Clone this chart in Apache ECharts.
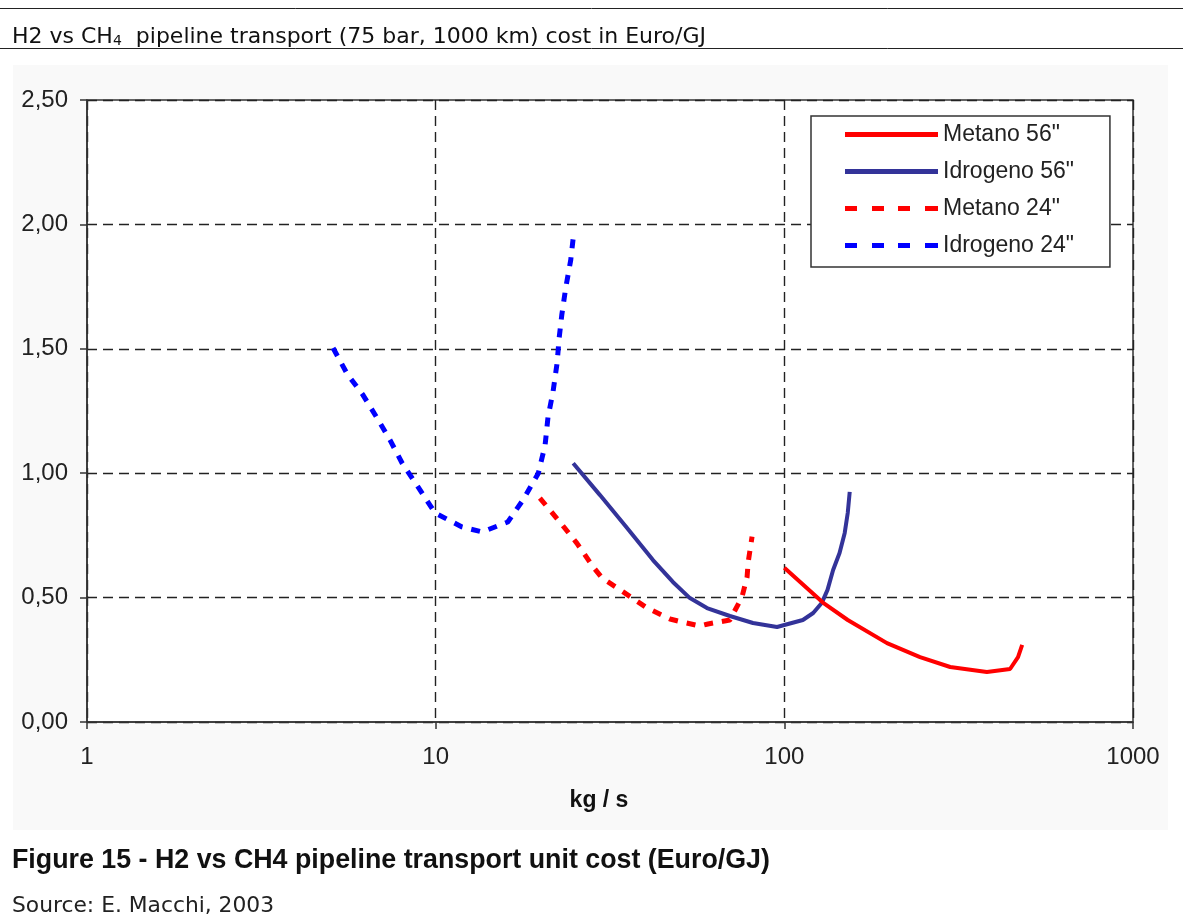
<!DOCTYPE html>
<html>
<head>
<meta charset="utf-8">
<script src="https://cdn.jsdelivr.net/npm/echarts@6/dist/echarts.min.js"></script>
<style>
  html, body { margin: 0; padding: 0; background: #ffffff; }
  #chart { width: 1183px; height: 916px; }
</style>
</head>
<body>
<div id="chart"></div>
<script>
// Flow rate (kg/s) and unit transport cost (Euro/GJ) for each pipeline case
const metano56X = [100, 129, 152, 197, 245, 299, 381, 444, 468, 481];
const metano56Y = [0.62, 0.48, 0.41, 0.317, 0.261, 0.221, 0.201, 0.213, 0.261, 0.31];

const idrogeno56X = [24.8, 29.6, 35.4, 42.0, 47.9, 53.6, 60.0, 69.8, 81.3, 95.3, 100, 113, 121, 128, 133, 138, 144, 149, 152, 154];
const idrogeno56Y = [1.04, 0.912, 0.78, 0.651, 0.563, 0.498, 0.458, 0.426, 0.398, 0.382, 0.39, 0.41, 0.438, 0.478, 0.531, 0.611, 0.679, 0.76, 0.84, 0.925];

const metano24X = [19.9, 22.7, 25.4, 28.3, 30.0, 34.5, 40.4, 47.0, 50.9, 57.3, 60.4, 69.8, 75.6, 78.2, 78.7, 80.8];
const metano24Y = [0.90, 0.804, 0.719, 0.623, 0.579, 0.523, 0.458, 0.414, 0.402, 0.386, 0.394, 0.41, 0.502, 0.583, 0.639, 0.745];

const idrogeno24X = [5.08, 5.57, 6.19, 6.79, 7.40, 8.01, 8.90, 9.96, 11.9, 13.6, 16.1, 17.8, 19.7, 20.6, 21.0, 21.7, 22.3, 22.6, 23.0, 23.6, 24.4, 24.8];
const idrogeno24Y = [1.503, 1.40, 1.314, 1.222, 1.133, 1.041, 0.945, 0.84, 0.784, 0.764, 0.804, 0.892, 1.0, 1.113, 1.226, 1.326, 1.443, 1.543, 1.636, 1.744, 1.857, 1.945];

const seriesNames = ['Metano 56"', 'Idrogeno 56"', 'Metano 24"', 'Idrogeno 24"'];
const yTicks = [0, 0.5, 1, 1.5, 2, 2.5];

const zip = (xs, ys) => xs.map((x, i) => [x, ys[i]]);

// legend swatches: a solid bar and a bar broken into four dashes
const SOLID_ICON = 'path://M0,0H93V5H0Z';
const DASH_ICON = 'path://M0,0H12V5H0Z M27,0H39V5H27Z M53,0H65V5H53Z M80,0H93V5H80Z';

const SANS = 'Liberation Sans, Arial, sans-serif';
const VERDANA = 'DejaVu Sans, Verdana, sans-serif';

const chart = echarts.init(document.getElementById('chart'));

const tickFont = { fontFamily: SANS, fontSize: 24, color: '#222' };

function lineSeries(name, data, color, width, dashed) {
  return {
    name: name,
    type: 'line',
    data: data,
    symbol: 'none',
    showSymbol: false,
    smooth: false,
    lineStyle: { color: color, width: width, type: dashed ? [9, 9] : 'solid' },
    itemStyle: { color: color },
    emphasis: { disabled: true }
  };
}

chart.setOption({
  animation: false,
  backgroundColor: '#ffffff',
  graphic: [
    // light panel behind the chart
    { type: 'rect', z: -10, shape: { x: 13, y: 65, width: 1155, height: 765 }, style: { fill: '#f9f9f9' } },
    // heading rules
    { type: 'line', shape: { x1: 0, y1: 8.5, x2: 1183, y2: 8.5 }, style: { stroke: '#222', lineWidth: 1 } },
    { type: 'line', shape: { x1: 0, y1: 48.5, x2: 1183, y2: 48.5 }, style: { stroke: '#222', lineWidth: 1 } },
    {
      type: 'text',
      style: {
        x: 12, y: 37, verticalAlign: 'middle',
        text: '{a|H2 vs CH}{s|4}{a|  pipeline transport (75 bar, 1000 km) cost in Euro/GJ}',
        rich: {
          a: { fontFamily: VERDANA, fontSize: 22, fill: '#111' },
          s: { fontFamily: VERDANA, fontSize: 14, fill: '#111', padding: [9, 0, 0, 0] }
        }
      }
    },
    {
      type: 'text',
      style: { x: 12, y: 861, verticalAlign: 'middle', text: 'Figure 15 - H2 vs CH4 pipeline transport unit cost (Euro/GJ)', fontFamily: SANS, fontWeight: 'bold', fontSize: 26.8, fill: '#111' }
    },
    {
      type: 'text',
      style: { x: 12, y: 906, verticalAlign: 'middle', text: 'Source: E. Macchi, 2003', fontFamily: VERDANA, fontSize: 21.8, fill: '#222' }
    }
  ],
  grid: {
    left: 87, right: 50, top: 100, bottom: 194,
    show: true, backgroundColor: '#ffffff', borderColor: '#333', borderWidth: 1.5
  },
  legend: {
    data: [
      { name: seriesNames[0], icon: SOLID_ICON },
      { name: seriesNames[1], icon: SOLID_ICON },
      { name: seriesNames[2], icon: DASH_ICON },
      { name: seriesNames[3], icon: DASH_ICON }
    ],
    orient: 'vertical',
    left: 811, top: 116,
    backgroundColor: '#ffffff',
    borderColor: '#333', borderWidth: 1.5,
    padding: [7, 36, 10, 34],
    itemWidth: 93, itemHeight: 5, itemGap: 14,
    itemStyle: { borderWidth: 0 },
    textStyle: { fontFamily: SANS, fontSize: 23, color: '#222', padding: [0, 0, 0, 0] },
    selectedMode: false
  },
  xAxis: {
    type: 'log', logBase: 10, min: 1, max: 1000,
    name: 'kg / s', nameLocation: 'middle', nameGap: 67,
    nameTextStyle: { fontFamily: SANS, fontSize: 23, fontWeight: 'bold', color: '#111', padding: [0, 22, 0, 0] },
    axisLine: { show: true, lineStyle: { color: '#333', width: 1.5 } },
    axisTick: { show: true, length: 7, inside: false, lineStyle: { color: '#333', width: 1.5 } },
    minorTick: { show: false },
    axisLabel: Object.assign({ margin: 23, formatter: v => String(Math.round(v)) }, tickFont),
    splitLine: { show: true, lineStyle: { color: '#222', width: 1.4, type: [10, 6] } }
  },
  yAxis: {
    type: 'value', min: yTicks[0], max: yTicks[yTicks.length - 1], interval: 0.5,
    axisLine: { show: true, lineStyle: { color: '#333', width: 1.5 } },
    axisTick: { show: true, length: 7, lineStyle: { color: '#333', width: 1.5 } },
    axisLabel: Object.assign({ margin: 19, formatter: v => v.toFixed(2).replace('.', ',') }, tickFont),
    splitLine: { show: true, lineStyle: { color: '#222', width: 1.4, type: [10, 6] } }
  },
  series: [
    lineSeries(seriesNames[1], zip(idrogeno56X, idrogeno56Y), '#333399', 4, false),
    lineSeries(seriesNames[0], zip(metano56X, metano56Y), '#ff0000', 4, false),
    lineSeries(seriesNames[2], zip(metano24X, metano24Y), '#ff0000', 5, true),
    lineSeries(seriesNames[3], zip(idrogeno24X, idrogeno24Y), '#0000ff', 5, true)
  ]
});
</script>
</body>
</html>
